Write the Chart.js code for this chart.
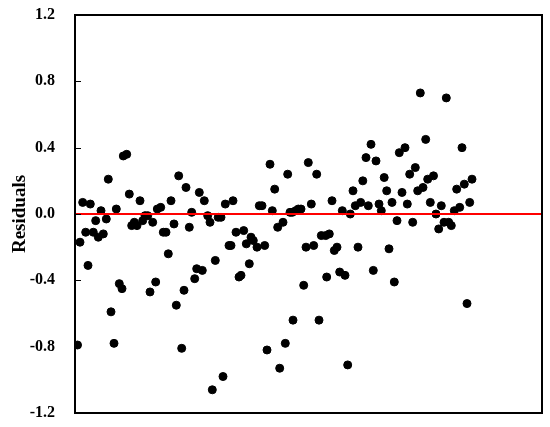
<!DOCTYPE html>
<html>
<head>
<meta charset="utf-8">
<script src="https://cdn.jsdelivr.net/npm/chart.js@4"></script>
<style>
  html, body { margin: 0; padding: 0; background: #fff; }
  #wrap { width: 550px; height: 427px; }
</style>
</head>
<body>
<div id="wrap"><canvas id="resid"></canvas></div>
<script>
const obs = [
  2.5, 5, 7.7, 10.7, 13, 15.3, 18.3, 20.7, 23.3, 26, 28.3, 31.3, 33.3, 36, 39, 41.3, 44.3, 47, 48.3, 51.7,
  54.3, 56.7, 59.3, 62, 65, 67.7, 70, 72.7, 75, 77.7, 80.7, 82.3, 85.7, 88.3, 91, 93.3, 96, 99, 101.3, 103.7,
  106.7, 109, 111, 114.3, 116.7, 119.7, 121.7, 124.3, 127.3, 129.3, 132.7, 135, 137.3, 140.3, 143.2, 146, 148, 150.3, 154, 156,
  158, 161, 164, 166, 168.7, 171.3, 174.3, 176, 178.3, 182, 184.3, 187, 189.7, 192, 195, 197.3, 199.7, 202.7, 204.7, 208,
  210.3, 212.7, 215, 217.3, 218, 220.7, 223.3, 226, 228.7, 231, 233.3, 236.3, 238.7, 241.7, 244, 246.3, 250.7, 251.7, 254.3, 257,
  259.3, 262, 264.7, 267.3, 270, 272.7, 275.3, 278, 280.3, 283, 285.7, 287.8, 291, 293.3, 296, 298.3, 301, 304, 306.3, 309.2,
  311.7, 314, 317, 319.3, 322, 324.3, 327, 330, 332.3, 334.7, 337.7, 340.3, 342.7, 345.3, 348, 350.7, 352.7, 355.3, 358.5, 361,
  363.7, 366.3, 369, 371.3, 373.7, 376.3, 379.3, 381.7, 384.7, 387, 389.3, 392, 394.7, 397
];
const residuals = [
  -0.79, -0.17, 0.07, -0.11, -0.31, 0.06, -0.11, -0.04, -0.14, 0.02, -0.12, -0.03, 0.21, -0.59, -0.78, 0.03, -0.42, -0.45, 0.35, 0.36,
  0.12, -0.07, -0.05, -0.07, 0.08, -0.04, -0.01, -0.01, -0.47, -0.05, -0.41, 0.03, 0.04, -0.11, -0.11, -0.24, 0.08, -0.06, -0.55, 0.23,
  -0.81, -0.46, 0.16, -0.08, 0.01, -0.39, -0.33, 0.13, -0.34, 0.08, -0.01, -0.05, -1.06, -0.28, -0.02, -0.02, -0.98, 0.06, -0.19, -0.19,
  0.08, -0.11, -0.38, -0.37, -0.10, -0.18, -0.30, -0.14, -0.16, -0.20, 0.05, 0.05, -0.19, -0.82, 0.30, 0.02, 0.15, -0.08, -0.93, -0.05,
  -0.78, 0.24, 0.01, 0.01, -0.64, 0.02, 0.03, 0.03, -0.43, -0.20, 0.31, 0.06, -0.19, 0.24, -0.64, -0.13, -0.13, -0.38, -0.12, 0.08,
  -0.22, -0.20, -0.35, 0.02, -0.37, -0.91, 0.00, 0.14, 0.05, -0.20, 0.07, 0.20, 0.34, 0.05, 0.42, -0.34, 0.32, 0.06, 0.02, 0.22,
  0.14, -0.21, 0.07, -0.41, -0.04, 0.37, 0.13, 0.40, 0.06, 0.24, -0.05, 0.28, 0.14, 0.73, 0.16, 0.45, 0.21, 0.07, 0.23, 0.00,
  -0.09, 0.05, -0.05, 0.70, -0.05, -0.07, 0.02, 0.15, 0.04, 0.40, 0.18, -0.54, 0.07, 0.21
];
const xRange = [0, 467];
const yTicks = [-1.2, -0.8, -0.4, 0.0, 0.4, 0.8, 1.2];

const serif = '"Liberation Serif", "Times New Roman", serif';

// box round the plot + inward ticks on the left axis
const framePlugin = {
  id: 'frame',
  afterDatasetsDraw(chart) {
    const { ctx, chartArea: a, scales } = chart;
    ctx.save();
    ctx.strokeStyle = '#000';
    ctx.lineWidth = 1;
    yTicks.slice(1, -1).forEach(v => {
      const py = Math.round(scales.y.getPixelForValue(v)) + 0.5;
      ctx.beginPath();
      ctx.moveTo(a.left, py);
      ctx.lineTo(a.left + 6, py);
      ctx.stroke();
    });
    ctx.lineWidth = 2;
    ctx.strokeRect(a.left, a.top, a.right - a.left, a.bottom - a.top);
    ctx.restore();
  }
};

new Chart(document.getElementById('resid'), {
  type: 'scatter',
  data: {
    datasets: [
      {
        label: 'Residuals',
        data: obs.map((x, i) => ({ x: x, y: residuals[i] })),
        backgroundColor: '#000',
        borderColor: '#000',
        pointRadius: 4,
        pointHoverRadius: 4,
        order: 2
      },
      {
        type: 'line',
        label: 'zero',
        data: xRange.map(x => ({ x: x, y: 0 })),
        borderColor: '#ff0000',
        borderWidth: 2,
        pointRadius: 0,
        fill: false,
        order: 1
      }
    ]
  },
  options: {
    responsive: true,
    maintainAspectRatio: false,
    animation: false,
    layout: { padding: { top: 0, right: 8, bottom: 0, left: 0 } },
    plugins: { legend: { display: false }, tooltip: { enabled: false } },
    scales: {
      x: {
        type: 'linear',
        display: false,
        min: xRange[0],
        max: xRange[1]
      },
      y: {
        min: -1.2,
        max: 1.2,
        afterFit(scale) {
          scale.width = 75;
          scale.paddingTop = 15;
          scale.paddingBottom = 14;
        },
        afterBuildTicks(scale) { scale.ticks = yTicks.map(v => ({ value: v })); },
        grid: { display: false, drawTicks: false },
        border: { display: false },
        ticks: {
          padding: 20,
          color: '#000',
          font: { family: serif, size: 16, weight: 'bold' },
          callback: v => v.toFixed(1)
        },
        title: {
          display: true,
          text: 'Residuals',
          color: '#000',
          font: { family: serif, size: 19, weight: 'bold' },
          padding: { top: 9, bottom: 0 }
        }
      }
    }
  },
  plugins: [framePlugin]
});
</script>
</body>
</html>
